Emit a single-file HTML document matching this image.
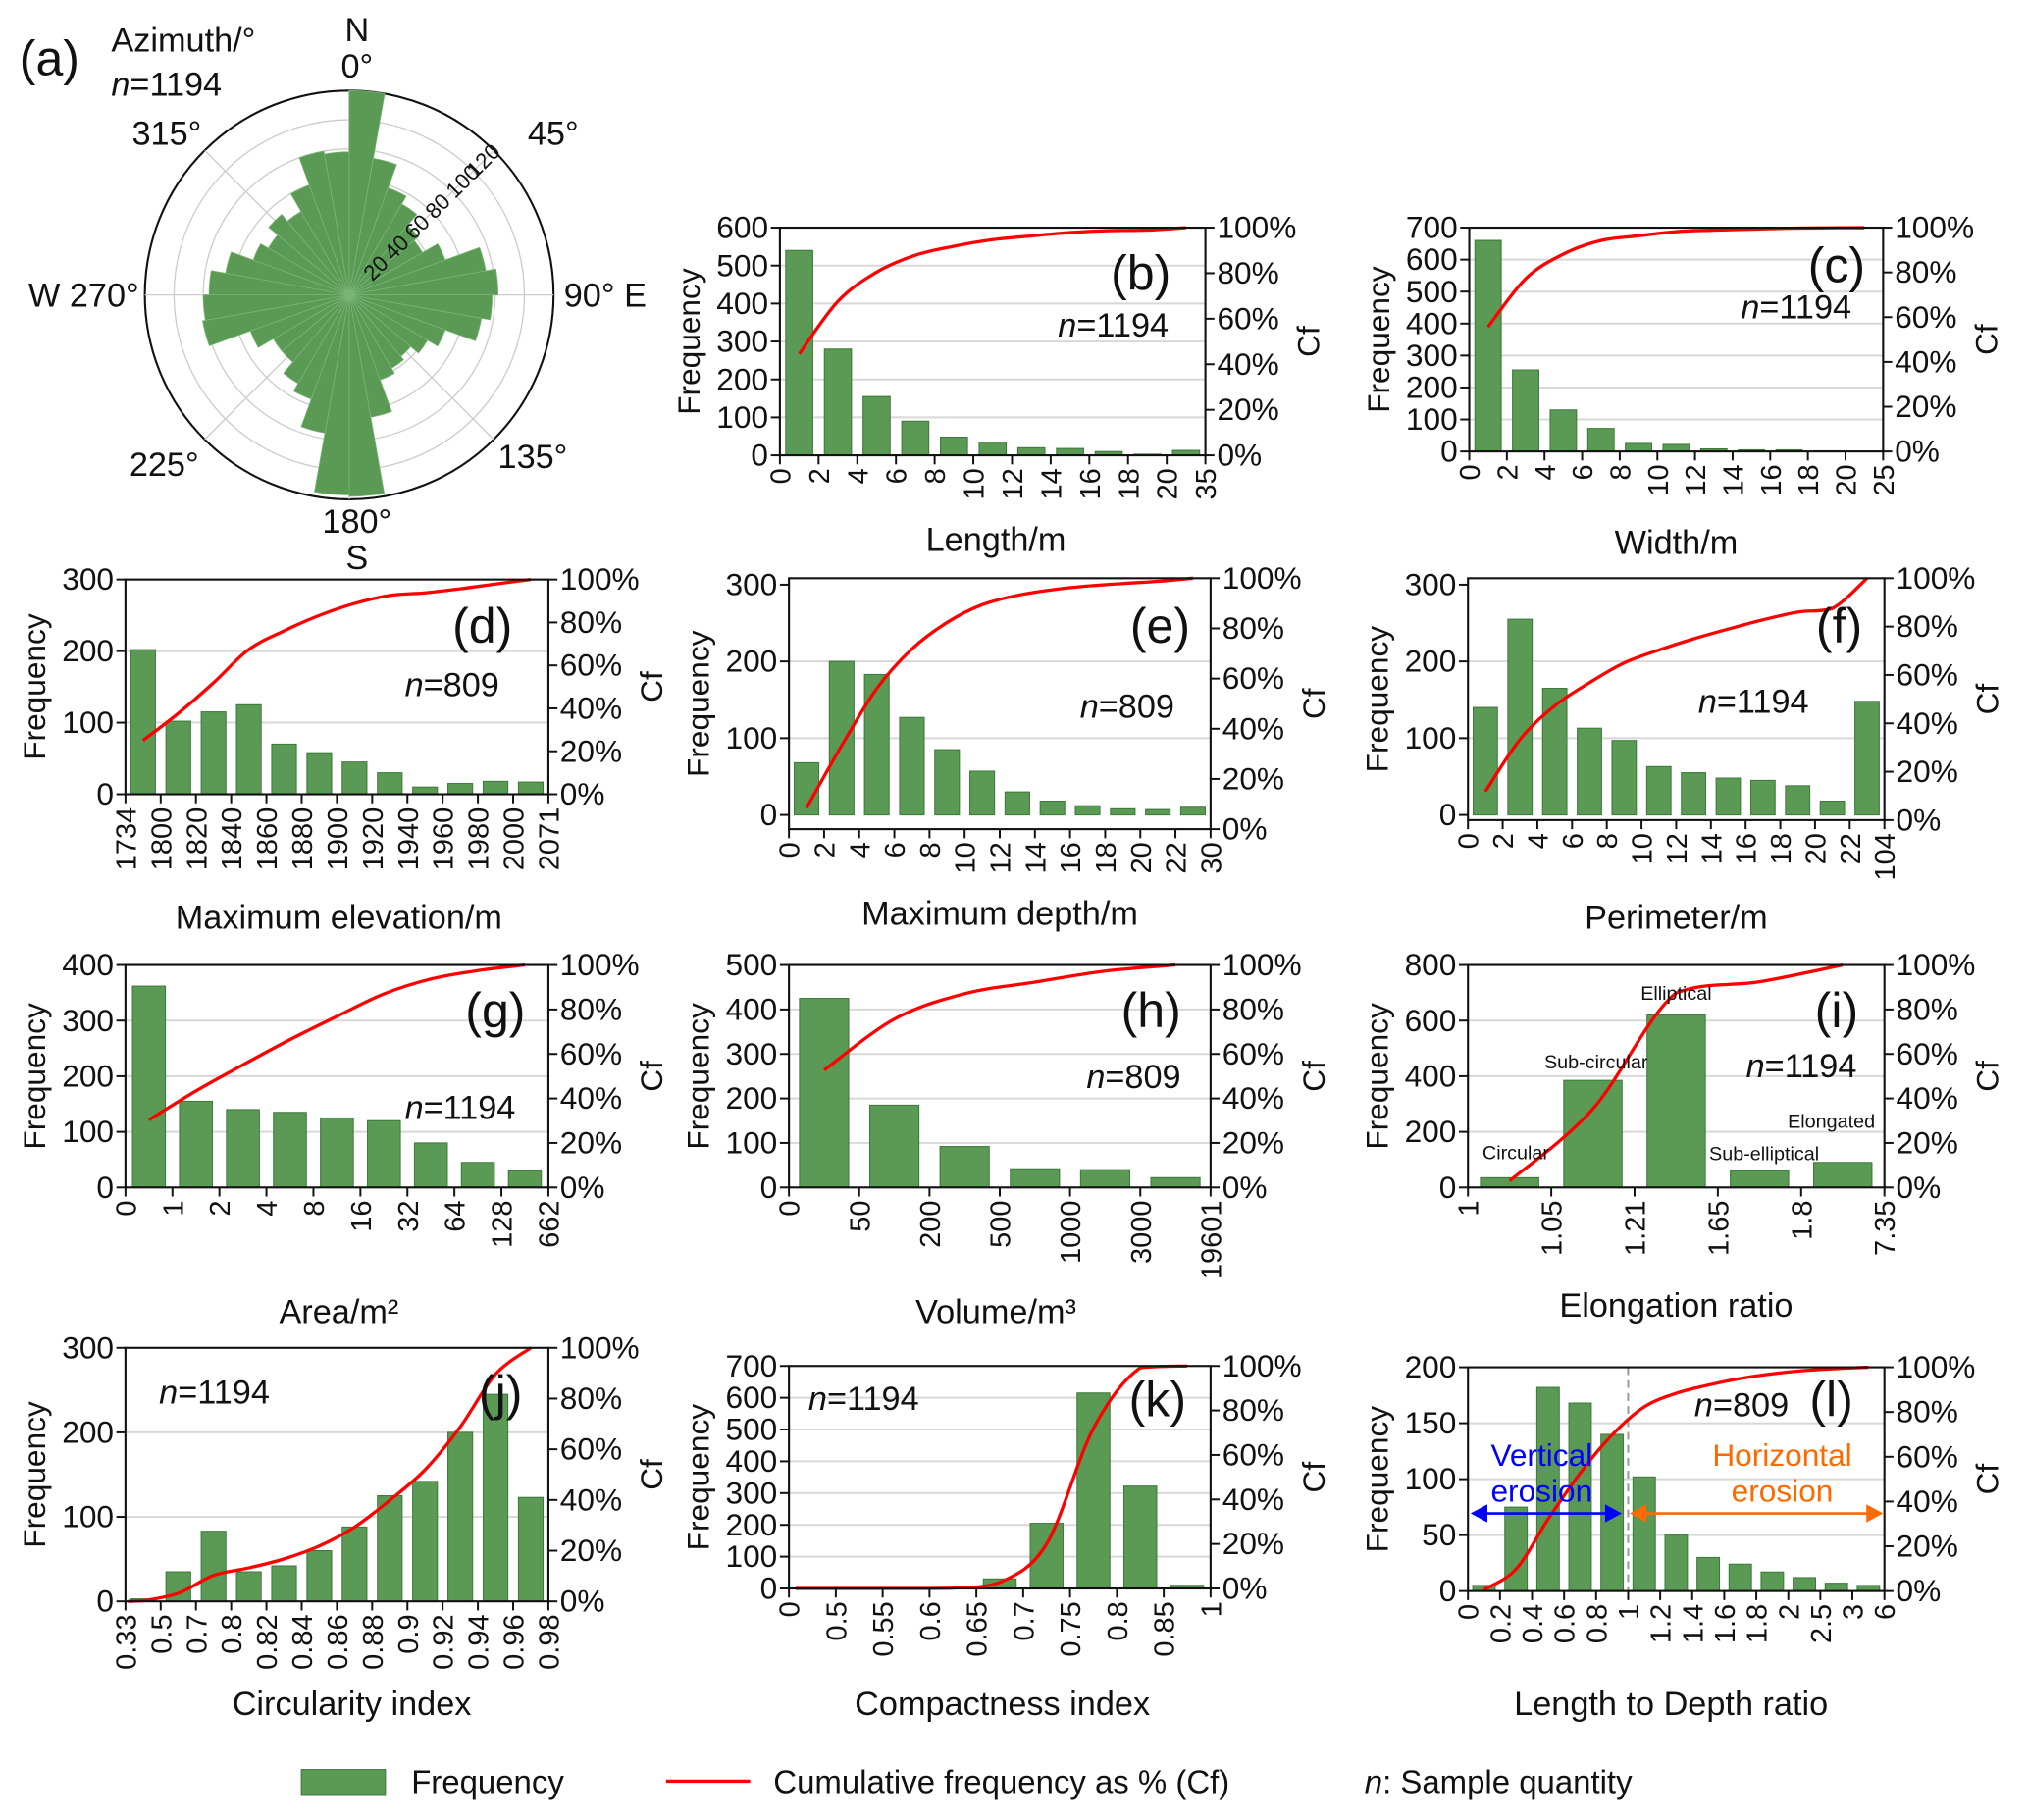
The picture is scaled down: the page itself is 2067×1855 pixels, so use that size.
<!DOCTYPE html>
<html><head><meta charset="utf-8"><style>
html,body{margin:0;padding:0;background:#fff}
svg{display:block}
text{font-family:"Liberation Sans","DejaVu Sans",sans-serif;fill:#111}
</style></head><body>
<svg id="s" width="2067" height="1855" viewBox="0 0 1568 1407" preserveAspectRatio="none" xmlns="http://www.w3.org/2000/svg"></svg>
<script>
const S=document.getElementById('s');const NS='http://www.w3.org/2000/svg';
function el(t,a,txt){const e=document.createElementNS(NS,t);for(const k in a)e.setAttribute(k,a[k]);if(txt!==undefined)e.textContent=txt;S.appendChild(e);return e;}
function tx(x,y,s,fs,o){o=o||{};const a={x:x,y:y,'font-size':fs};if(o.anchor)a['text-anchor']=o.anchor;if(o.rot!==undefined)a.transform='rotate('+o.rot+' '+x+' '+y+')';if(o.fill)a.style='fill:'+o.fill;if(o.it)a['font-style']='italic';return el('text',a,s);}
function nlab(x,y,v,fs){const t=el('text',{x:x,y:y,'font-size':fs});const a=document.createElementNS(NS,'tspan');a.setAttribute('font-style','italic');a.textContent='n';t.appendChild(a);const b=document.createElementNS(NS,'tspan');b.textContent='='+v;t.appendChild(b);}
const G='#5a9a55',GE='#3e7a3b';
const cl=(v,a,b)=>Math.max(Math.min(a,b),Math.min(Math.max(a,b),v));
function panel(p){
 const {x0,x1,yT,yB,max,ticks,labels,data}=p;
 const lT=p.lT||yT,lB=p.lB||yB;
 const ly=v=>lB-(v/max)*(lB-lT);
 ticks.forEach(v=>{if(v>0&&v<max)el('line',{x1:x0,x2:x1,y1:ly(v),y2:ly(v),stroke:'#d8d8d8','stroke-width':1.5});});
 const n=data.length,w=(x1-x0)/n;
 if(p.extra)p.extra(x0,w,yT,yB);
 data.forEach((d,i)=>{const h=d/max*(lB-lT);el('rect',{x:x0+i*w+w*0.15,y:lB-h,width:w*0.7,height:h,fill:G,stroke:GE,'stroke-width':0.8});});
 const tot=data.reduce((a,b)=>a+b,0);let c=0;const pts=[];
 data.forEach((d,i)=>{c+=d;pts.push([x0+(i+0.5)*w,yB-(c/tot)*(yB-yT)]);});
 if(p.cfStart)pts.unshift(p.cfStart(x0,w));
 let dstr='M'+pts[0][0]+','+pts[0][1];
 for(let i=1;i<pts.length;i++){const p0=pts[Math.max(0,i-2)],p1=pts[i-1],p2=pts[i],p3=pts[Math.min(pts.length-1,i+1)];
  const c1y=cl(p1[1]+(p2[1]-p0[1])/6,p1[1],p2[1]),c2y=cl(p2[1]-(p3[1]-p1[1])/6,p1[1],p2[1]);
  dstr+=' C'+(p1[0]+(p2[0]-p0[0])/6)+','+c1y+' '+(p2[0]-(p3[0]-p1[0])/6)+','+c2y+' '+p2[0]+','+p2[1];}
 el('path',{d:dstr,fill:'none',stroke:'#f00','stroke-width':2.5});
 el('rect',{x:x0,y:yT,width:x1-x0,height:yB-yT,fill:'none',stroke:'#111','stroke-width':1.6});
 ticks.forEach(v=>{const y=ly(v);el('line',{x1:x0-7,x2:x0,y1:y,y2:y,stroke:'#111','stroke-width':1.5});tx(x0-9,y+8,String(v),24,{anchor:'end'});});
 for(let k=0;k<=5;k++){const y=yB-k/5*(yB-yT);el('line',{x1:x1,x2:x1+7,y1:y,y2:y,stroke:'#111','stroke-width':1.5});tx(x1+9,y+8,(k*20)+'%',24);}
 labels.forEach((l,i)=>{const x=x0+i*w;el('line',{x1:x,x2:x,y1:yB,y2:yB+7,stroke:'#111','stroke-width':1.5});tx(x+8,yB+10,l,22,{anchor:'end',rot:-90});});
 tx(x0-62,(yT+yB)/2,'Frequency',24,{anchor:'middle',rot:-90});
 tx(x1+88,(yT+yB)/2,'Cf',24,{anchor:'middle',rot:-90});
 tx(p.xl[1],p.xl[2],p.xl[0],26,{anchor:'middle'});
 tx(p.tag[1],p.tag[2],p.tag[0],38,{anchor:'middle'});
 nlab(p.nn[1],p.nn[2],p.nn[0],26);
}
function rng(a,b,s){const o=[];for(let v=a;v<=b+1e-9;v+=s)o.push(+v.toFixed(2));return o;}
panel({x0:603,x1:932,yT:176,yB:352,max:600,ticks:rng(0,600,100),labels:['0','2','4','6','8','10','12','14','16','18','20','35'],data:[540,280,155,90,48,35,20,18,10,3,13],xl:['Length/m',770,426],tag:['(b)',882,224],nn:['1194',818,260]});
panel({x0:1136,x1:1456,yT:176,yB:349,max:700,ticks:rng(0,700,100),labels:['0','2','4','6','8','10','12','14','16','18','20','25'],data:[660,255,130,72,25,22,8,5,5,2,1],xl:['Width/m',1296,428],tag:['(c)',1420,218],nn:['1194',1346,246]});
panel({x0:97,x1:424,yT:448,yB:614,max:300,ticks:[0,100,200,300],labels:['1734','1800','1820','1840','1860','1880','1900','1920','1940','1960','1980','2000','2071'],data:[202,102,115,125,70,58,45,30,10,15,18,17],xl:['Maximum elevation/m',262,718],tag:['(d)',373,497],nn:['809',313,538]});
panel({x0:610,x1:936,yT:447,yB:641,lT:452,lB:630,max:300,ticks:[0,100,200,300],labels:['0','2','4','6','8','10','12','14','16','18','20','22','30'],data:[68,200,183,127,85,57,30,18,12,8,7,10],xl:['Maximum depth/m',773,715],tag:['(e)',897,497],nn:['809',835,555]});
panel({x0:1135,x1:1457,yT:447,yB:634,lT:452,lB:630,max:300,ticks:[0,100,200,300],labels:['0','2','4','6','8','10','12','14','16','18','20','22','104'],data:[140,255,165,113,97,63,55,48,45,38,18,148],xl:['Perimeter/m',1296,718],tag:['(f)',1422,497],nn:['1194',1313,551]});
panel({x0:97,x1:424,yT:746,yB:918,max:400,ticks:[0,100,200,300,400],labels:['0','1','2','4','8','16','32','64','128','662'],data:[362,155,140,135,125,120,80,45,30],xl:['Area/m²',262,1023],tag:['(g)',383,794],nn:['1194',313,865]});
panel({x0:610,x1:936,yT:746,yB:918,max:500,ticks:[0,100,200,300,400,500],labels:['0','50','200','500','1000','3000','19601'],data:[425,185,92,42,40,22],xl:['Volume/m³',770,1023],tag:['(h)',890,794],nn:['809',840,841]});
panel({x0:1135,x1:1457,yT:746,yB:918,max:800,ticks:[0,200,400,600,800],labels:['1','1.05','1.21','1.65','1.8','7.35'],data:[35,385,620,60,90],xl:['Elongation ratio',1296,1018],tag:['(i)',1420,794],nn:['1194',1350,833]});
[['Circular',1172,896],['Sub-circular',1234,826],['Elliptical',1296,773],['Sub-elliptical',1364,897],['Elongated',1416,872]].forEach(a=>tx(a[1],a[2],a[0],15,{anchor:'middle'}));
panel({x0:97,x1:424,yT:1042,yB:1238,max:300,ticks:[0,100,200,300],labels:['0.33','0.5','0.7','0.8','0.82','0.84','0.86','0.88','0.9','0.92','0.94','0.96','0.98'],data:[3,35,83,35,42,60,88,125,142,200,245,123],xl:['Circularity index',272,1326],tag:['(j)',387,1090],nn:['1194',123,1085],cfStart:(x0,w)=>[x0+2,1238]});
panel({x0:610,x1:936,yT:1056,yB:1228,max:700,ticks:rng(0,700,100),labels:['0','0.5','0.55','0.6','0.65','0.7','0.75','0.8','0.85','1'],data:[0,0,0,2,30,205,615,322,10],xl:['Compactness index',775,1326],tag:['(k)',895,1095],nn:['1194',625,1090],cfStart:(x0,w)=>[x0+5,1228]});
panel({x0:1135,x1:1457,yT:1057,yB:1230,max:200,ticks:[0,50,100,150,200],labels:['0','0.2','0.4','0.6','0.8','1','1.2','1.4','1.6','1.8','2','2.5','3','6'],data:[5,75,182,168,140,102,50,30,24,17,12,7,5],xl:['Length to Depth ratio',1292,1326],tag:['(l)',1416,1095],nn:['809',1310,1095],
 extra:(x0,w,yT,yB)=>{el('line',{x1:x0+5*w,x2:x0+5*w,y1:yT,y2:yB,stroke:'#999','stroke-width':1.5,'stroke-dasharray':'6,4'});}});
el('line',{x1:1145,x2:1248,y1:1170,y2:1170,stroke:'#00f','stroke-width':2});
el('path',{d:'M1137,1170 L1150,1163 L1150,1177Z',fill:'#00f'});el('path',{d:'M1254,1170 L1241,1163 L1241,1177Z',fill:'#00f'});
tx(1192,1133,'Vertical',24,{anchor:'middle',fill:'#00f'});tx(1192,1161,'erosion',24,{anchor:'middle',fill:'#00f'});
el('line',{x1:1268,x2:1448,y1:1170,y2:1170,stroke:'#ff6a00','stroke-width':2});
el('path',{d:'M1260,1170 L1273,1163 L1273,1177Z',fill:'#ff6a00'});el('path',{d:'M1456,1170 L1443,1163 L1443,1177Z',fill:'#ff6a00'});
tx(1378,1133,'Horizontal',24,{anchor:'middle',fill:'#ff6a00'});tx(1378,1161,'erosion',24,{anchor:'middle',fill:'#ff6a00'});
const cx=270,cy=228,R=158,k=R/140;
el('circle',{cx:cx,cy:cy,r:R,fill:'none',stroke:'#111','stroke-width':1.6});
for(let v=20;v<140;v+=20)el('circle',{cx:cx,cy:cy,r:v*k,fill:'none',stroke:'#ccc','stroke-width':1});
for(let a=0;a<360;a+=45){const t=a*Math.PI/180;el('line',{x1:cx,y1:cy,x2:cx+R*Math.sin(t),y2:cy-R*Math.cos(t),stroke:'#ccc','stroke-width':1});}
const vals=[140,95,78,72,62,58,70,95,102,98,92,70,62,55,58,62,85,138,137,96,76,70,60,60,72,102,100,96,86,70,64,72,66,80,100,98];
vals.forEach((v,i)=>{const a1=i*10*Math.PI/180,a2=(i+1)*10*Math.PI/180,rr=v*k;
 el('path',{d:`M${cx},${cy} L${cx+rr*Math.sin(a1)},${cy-rr*Math.cos(a1)} A${rr},${rr} 0 0 1 ${cx+rr*Math.sin(a2)},${cy-rr*Math.cos(a2)} Z`,fill:G,stroke:'#7ab575','stroke-width':0.6});});
for(let v=20;v<=120;v+=20){const t=45*Math.PI/180,rr=v*k;tx(cx+rr*Math.sin(t)+2,cy-rr*Math.cos(t)+6,String(v),17,{rot:-45});}
tx(15,58,'(a)',38);tx(86,40,'Azimuth/°',26);nlab(86,74,'1194',26);
tx(276,32,'N',26,{anchor:'middle'});tx(276,60,'0°',26,{anchor:'middle'});
tx(408,112,'45°',26);tx(436,237,'90° E',26);tx(385,362,'135°',26);
tx(276,412,'180°',26,{anchor:'middle'});tx(276,440,'S',26,{anchor:'middle'});
tx(100,368,'225°',26);tx(22,237,'W 270°',26);tx(102,112,'315°',26);
el('rect',{x:233,y:1368,width:65,height:20,fill:G,stroke:GE,'stroke-width':0.8});
tx(318,1386,'Frequency',25);
el('line',{x1:515,x2:580,y1:1377,y2:1377,stroke:'#f00','stroke-width':2.5});
tx(598,1386,'Cumulative frequency as % (Cf)',25);
const t=el('text',{x:1055,y:1386,'font-size':25});const s1=document.createElementNS(NS,'tspan');s1.setAttribute('font-style','italic');s1.textContent='n';t.appendChild(s1);const s2=document.createElementNS(NS,'tspan');s2.textContent=': Sample quantity';t.appendChild(s2);
</script>
</body></html>
